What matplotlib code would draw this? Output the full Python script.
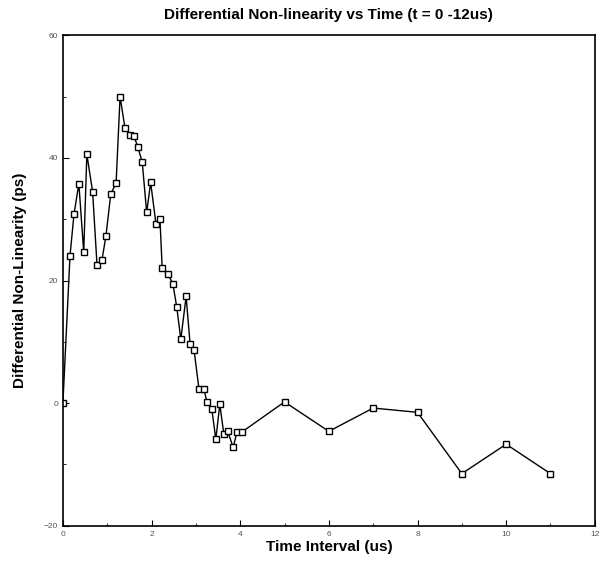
import matplotlib
matplotlib.use("Agg")
from matplotlib import pyplot as plt

# time (us) and differential non-linearity (ps)
t_us = [0.0, 0.16, 0.25, 0.36, 0.47, 0.54, 0.67, 0.77, 0.88, 0.97, 1.08, 1.2,
        1.29, 1.4, 1.51, 1.6, 1.69, 1.79, 1.89, 1.98, 2.1, 2.19, 2.24, 2.37,
        2.48, 2.57, 2.66, 2.78, 2.87, 2.96, 3.07, 3.18, 3.25, 3.36, 3.45, 3.54,
        3.63, 3.72, 3.84, 3.93, 4.04, 5.0, 6.0, 7.0, 8.0, 9.0, 10.0, 11.0]
dnl_ps = [0.0, 24.0, 30.8, 35.8, 24.6, 40.6, 34.5, 22.5, 23.3, 27.2, 34.1, 35.9,
          50.0, 44.9, 43.7, 43.6, 41.8, 39.3, 31.1, 36.0, 29.2, 30.0, 22.0, 21.0,
          19.5, 15.6, 10.4, 17.4, 9.6, 8.6, 2.3, 2.3, 0.2, -1.0, -5.9, -0.2,
          -5.0, -4.6, -7.2, -4.7, -4.7, 0.2, -4.6, -0.8, -1.5, -11.5, -6.7, -11.5]

x_ticks = [0, 2, 4, 6, 8, 10, 12]
y_ticks = [-20, 0, 20, 40, 60]

plt.rcParams['font.family'] = ['Liberation Sans', 'DejaVu Sans']

fig = plt.figure(figsize=(5.99, 5.69), dpi=100)
ax = fig.add_axes([0.105, 0.076, 0.888, 0.862])

ax.plot(t_us, dnl_ps, color='black', linewidth=1.0, marker='s', markersize=4,
        markerfacecolor='white', markeredgecolor='black', markeredgewidth=1.0)

ax.set_xlim(0, 12)
ax.set_ylim(-20, 60)
ax.set_xticks(x_ticks)
ax.set_yticks(y_ticks)
ax.set_xticks(range(0, 13), minor=True)
ax.set_yticks(range(-20, 61, 10), minor=True)
ax.tick_params(which='both', direction='in', labelsize=6, labelcolor='#555555')
ax.tick_params(which='major', length=4)
ax.tick_params(which='minor', length=2)
for s in ax.spines.values():
    s.set_linewidth(1.2)

ax.set_title("Differential Non-linearity vs Time (t = 0 -12us)", fontsize=11,
             fontweight='bold', pad=12)
ax.set_xlabel("Time Interval (us)", fontsize=11, fontweight='bold', labelpad=2)
ax.set_ylabel("Differential Non-Linearity (ps)", fontsize=11, fontweight='bold',
              labelpad=12)

fig.savefig('out.png', dpi=100)
